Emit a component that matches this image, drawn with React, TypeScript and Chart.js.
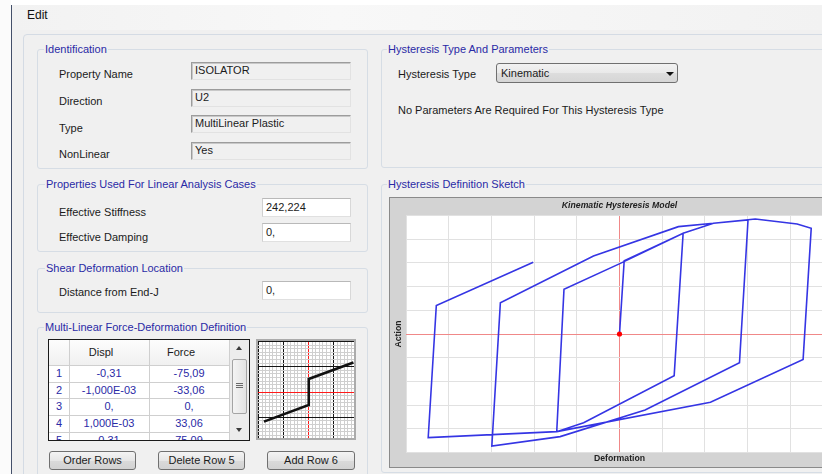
import React, { useEffect, useRef } from "react";
import { Chart, registerables } from "chart.js";
Chart.register(...registerables);

// ---- Hysteresis sketch data (grid units) ----
const hysteresisDeformation = [0, 0.11, 1.49, 1.28, -0.84, -1.47, -1.30, 0.02, 1.49, 2.20, 3.01, 2.81, 0.60, -1.39, -2.99, -2.79, -0.61, 1.38, 2.20, 3.18, 4.16, 4.49, 4.30, 2.13, -1.47, -4.48, -4.29, -2.02];
const hysteresisAction = [0, 3.09, 4.25, -1.76, -3.74, -4.12, 1.89, 2.98, 4.25, 4.67, 4.81, -1.21, -3.21, -4.33, -4.73, 1.32, 3.29, 4.53, 4.67, 4.85, 4.64, 4.46, -1.07, -2.88, -4.12, -4.37, 1.20, 3.03];

// ---- Multi-linear definition ----
const tableDispl = [-0.31, -0.001, 0, 0.001, 0.31];
const tableForce = [-75.09, -33.06, 0, 33.06, 75.09];
const tableDisplText = ["-0,31", "-1,000E-03", "0,", "1,000E-03", "0,31"];
const tableForceText = ["-75,09", "-33,06", "0,", "33,06", "75,09"];
const rowNumbers = ["1", "2", "3", "4", "5"];

const smallXRange = [-0.351, 0.314];
const smallYRange = [-116.7, 129.4];
const smallMajor = [0.1732, 64.2];
const smallMinorPerMajor = 7;

const FONT = "'Liberation Sans', Arial, Helvetica, sans-serif";
const BLUE = "#2a2aa6";

function Txt(props: any) {
  const { x, cy, children, size = 11, color = "#1b1b1b", center = false, bg, bold = false, italic = false } = props;
  const lh = 14;
  return (
    <div
      style={{
        position: "absolute",
        left: center ? x - 100 : x,
        top: cy - lh / 2,
        width: center ? 200 : undefined,
        textAlign: center ? "center" : "left",
        fontSize: size,
        lineHeight: lh + "px",
        color,
        fontFamily: FONT,
        whiteSpace: "nowrap",
        fontWeight: bold ? "bold" : "normal",
        fontStyle: italic ? "italic" : "normal",
      }}
    >
      {bg ? <span style={{ background: bg, padding: "0 1px" }}>{children}</span> : children}
    </div>
  );
}

function Group(props: any) {
  const { x, y, w, h, label, lx } = props;
  return (
    <>
      <div
        style={{
          position: "absolute",
          left: x,
          top: y,
          width: w,
          height: h,
          border: "1px solid #d6dde5",
          borderRadius: 3,
          boxSizing: "border-box",
        }}
      />
      <Txt x={lx - 1} cy={y} color={BLUE} bg="#f0f0f0">
        {label}
      </Txt>
    </>
  );
}

function Box(props: any) {
  const { x, y, w, h, text, ro } = props;
  return (
    <div
      style={{
        position: "absolute",
        left: x,
        top: y,
        width: w,
        height: h,
        boxSizing: "border-box",
        background: ro ? "#f0f0f0" : "#ffffff",
        borderTop: ro ? "1px solid #9c9c9c" : "1px solid #b9b9b9",
        borderLeft: ro ? "1px solid #9c9c9c" : "1px solid #d0d0d0",
        borderRight: ro ? "1px solid #e2e2e2" : "1px solid #d8d8d8",
        borderBottom: ro ? "1px solid #e2e2e2" : "1px solid #e0e0e0",
        boxShadow: ro ? "inset 1px 1px 0 #c8c8c8" : "none",
      }}
    >
      <div
        style={{
          position: "absolute",
          left: 3,
          top: ro ? 0 : 1,
          fontSize: 11,
          lineHeight: "14px",
          fontFamily: FONT,
          color: "#1b1b1b",
          whiteSpace: "nowrap",
        }}
      >
        {text}
      </div>
    </div>
  );
}

function Button(props: any) {
  const { x, y, w, h, text } = props;
  return (
    <div
      style={{
        position: "absolute",
        left: x,
        top: y,
        width: w,
        height: h,
        boxSizing: "border-box",
        border: "1px solid #707070",
        borderRadius: 3,
        background: "linear-gradient(#f4f4f4, #e6e6e6 50%, #dadada 51%, #d2d2d2)",
        fontFamily: FONT,
        fontSize: 11,
        lineHeight: h - 2 + "px",
        textAlign: "center",
        color: "#1b1b1b",
      }}
    >
      {text}
    </div>
  );
}

function HysteresisChart() {
  const ref = useRef<HTMLCanvasElement>(null);
  useEffect(() => {
    const gray = "#e1e1e1";
    const red = "#f08888";
    const titleFont = { family: FONT, size: 8.7, weight: "bold" as const, lineHeight: 1.2 };
    const plotBg = {
      id: "plotBg",
      beforeDraw(chart: any) {
        const { ctx, chartArea } = chart;
        ctx.save();
        ctx.fillStyle = "#ffffff";
        ctx.fillRect(chartArea.left, chartArea.top, chartArea.right - chartArea.left, chartArea.bottom - chartArea.top);
        ctx.restore();
      },
    };
    const chart = new Chart(ref.current!, {
      type: "scatter",
      data: {
        datasets: [
          {
            data: [{ x: 0, y: 0 }],
            pointRadius: 2.6,
            pointBackgroundColor: "#ff0000",
            pointBorderWidth: 0,
            showLine: false,
          },
          {
            data: hysteresisDeformation.map((x, i) => ({ x, y: hysteresisAction[i] })),
            showLine: true,
            borderColor: "#3535e4",
            borderWidth: 1.6,
            pointRadius: 0,
            tension: 0,
            fill: false,
          },
        ],
      },
      options: {
        responsive: false,
        animation: false,
        events: [],
        layout: { padding: 0, autoPadding: false },
        plugins: {
          legend: { display: false },
          tooltip: { enabled: false },
          title: {
            display: true,
            text: "Kinematic Hysteresis Model",
            color: "#222222",
            font: { ...titleFont, style: "italic" },
            padding: { top: 2, bottom: 5.06 },
          },
        },
        scales: {
          x: {
            type: "linear",
            min: -5,
            max: 5,
            ticks: { display: false, stepSize: 1 },
            grid: {
              drawTicks: false,
              lineWidth: 1,
              color: (c: any) => (c.tick && c.tick.value === 0 ? red : gray),
            },
            border: { display: false },
            title: { display: true, text: "Deformation", color: "#222222", font: titleFont, padding: { top: 1.28, bottom: 2.78 } },
            afterFit: (s: any) => {
              s.height = 14.5;
            },
          },
          y: {
            type: "linear",
            position: "left",
            min: -5,
            max: 5,
            ticks: { display: false, stepSize: 1 },
            grid: {
              drawTicks: false,
              lineWidth: 1,
              color: (c: any) => (c.tick && c.tick.value === 0 ? red : gray),
            },
            border: { display: false },
            title: { display: true, text: "Action", color: "#222222", font: titleFont, padding: { top: 3.1, bottom: 2.46 } },
            afterFit: (s: any) => {
              s.width = 16;
            },
          },
          y2: {
            type: "linear",
            position: "right",
            display: true,
            ticks: { display: false },
            grid: { display: false, drawTicks: false },
            border: { display: false },
            afterFit: (s: any) => {
              s.width = 16;
            },
          },
        },
      } as any,
      plugins: [plotBg],
    });
    return () => chart.destroy();
  }, []);
  return (
    <div
      style={{
        position: "absolute",
        left: 389,
        top: 197,
        width: 461,
        height: 271,
        boxSizing: "border-box",
        border: "1px solid #8a8a8a",
        background: "#d3d3d3",
      }}
    >
      <canvas ref={ref} width={459} height={269} style={{ display: "block" }} />
    </div>
  );
}

function SmallChart() {
  const ref = useRef<HTMLCanvasElement>(null);
  useEffect(() => {
    const mkTicks = (min: number, max: number, major: number) => {
      const minor = major / smallMinorPerMajor;
      const out: any[] = [];
      for (let k = Math.ceil(min / minor); k <= Math.floor(max / minor); k++) out.push({ value: k * minor, k });
      return out;
    };
    const colorFor = (c: any, major: number) => {
      if (!c.tick) return "#d0d0d0";
      const k = Math.round(c.tick.value / (major / smallMinorPerMajor));
      if (k === 0) return "#ff1a1a";
      if (k % smallMinorPerMajor === 0) return "#151515";
      return "#cfcfcf";
    };
    const chart = new Chart(ref.current!, {
      type: "scatter",
      data: {
        datasets: [
          {
            data: tableDispl.map((x, i) => ({ x, y: tableForce[i] })),
            showLine: true,
            borderColor: "#111111",
            borderWidth: 2.6,
            pointRadius: 0,
            tension: 0,
          },
        ],
      },
      options: {
        responsive: false,
        animation: false,
        events: [],
        layout: { padding: 0, autoPadding: false },
        plugins: { legend: { display: false }, tooltip: { enabled: false }, title: { display: false } },
        scales: {
          x: {
            type: "linear",
            min: smallXRange[0],
            max: smallXRange[1],
            afterBuildTicks: (s: any) => {
              s.ticks = mkTicks(smallXRange[0], smallXRange[1], smallMajor[0]);
            },
            ticks: { display: false },
            grid: { drawTicks: false, lineWidth: 1, color: (c: any) => colorFor(c, smallMajor[0]) },
            border: { display: false },
            afterFit: (s: any) => {
              s.height = 0;
            },
          },
          y: {
            type: "linear",
            min: smallYRange[0],
            max: smallYRange[1],
            afterBuildTicks: (s: any) => {
              s.ticks = mkTicks(smallYRange[0], smallYRange[1], smallMajor[1]);
            },
            ticks: { display: false },
            grid: { drawTicks: false, lineWidth: 1, color: (c: any) => colorFor(c, smallMajor[1]) },
            border: { display: false },
            afterFit: (s: any) => {
              s.width = 0;
            },
          },
        },
      } as any,
    });
    return () => chart.destroy();
  }, []);
  return (
    <div
      style={{
        position: "absolute",
        left: 256,
        top: 339,
        width: 100,
        height: 101,
        boxSizing: "border-box",
        border: "2px solid #ababab",
        background: "#ffffff",
      }}
    >
      <canvas ref={ref} width={96} height={97} style={{ display: "block" }} />
    </div>
  );
}

function Table() {
  const rowTop = 365;
  const rowH = 16.67;
  const cells: any[] = [];
  for (let i = 0; i < rowNumbers.length; i++) {
    const cy = rowTop + rowH * i + rowH / 2 - 0.5;
    cells.push(
      <Txt key={"r" + i} x={59} cy={cy} center color={BLUE}>
        {rowNumbers[i]}
      </Txt>,
      <Txt key={"d" + i} x={109} cy={cy} center color={BLUE}>
        {tableDisplText[i]}
      </Txt>,
      <Txt key={"f" + i} x={189} cy={cy} center color={BLUE}>
        {tableForceText[i]}
      </Txt>
    );
  }
  const lines: any[] = [];
  for (let i = 0; i <= 5; i++) {
    lines.push(
      <div key={"h" + i} style={{ position: "absolute", left: 49, top: Math.round(rowTop + rowH * i), width: 181, height: 1, background: "#cfcfcf" }} />
    );
  }
  return (
    <>
      <div
        style={{
          position: "absolute",
          left: 48,
          top: 339,
          width: 202,
          height: 102,
          boxSizing: "border-box",
          border: "1px solid #1a1a1a",
          background: "#ffffff",
        }}
      />
      <div style={{ position: "absolute", left: 49, top: 340, width: 200, height: 100, overflow: "hidden" }}>
        <div style={{ position: "absolute", left: -49, top: -340, width: 300, height: 500 }}>
          <div style={{ position: "absolute", left: 49, top: 340, width: 181, height: 25, background: "linear-gradient(#fdfdfd, #f0f0f0)" }} />
          {lines}
          <div style={{ position: "absolute", left: 69, top: 340, width: 1, height: 110, background: "#cfcfcf" }} />
          <div style={{ position: "absolute", left: 149, top: 340, width: 1, height: 110, background: "#cfcfcf" }} />
          <div style={{ position: "absolute", left: 229, top: 340, width: 1, height: 110, background: "#cfcfcf" }} />
          <Txt x={101} cy={352} center>
            Displ
          </Txt>
          <Txt x={181} cy={352} center>
            Force
          </Txt>
          {cells}
          {/* scrollbar */}
          <div style={{ position: "absolute", left: 230, top: 340, width: 19, height: 100, background: "#ececec" }} />
          <div
            style={{
              position: "absolute",
              left: 236,
              top: 346,
              width: 0,
              height: 0,
              borderLeft: "3.5px solid transparent",
              borderRight: "3.5px solid transparent",
              borderBottom: "4px solid #3a3a3a",
            }}
          />
          <div
            style={{
              position: "absolute",
              left: 232,
              top: 359,
              width: 15,
              height: 55,
              boxSizing: "border-box",
              border: "1px solid #a4a4a4",
              borderRadius: 2,
              background: "linear-gradient(90deg, #f4f4f4, #e2e2e2)",
            }}
          />
          <div style={{ position: "absolute", left: 236, top: 383, width: 7, height: 1, background: "#6a6a6a" }} />
          <div style={{ position: "absolute", left: 236, top: 385, width: 7, height: 1, background: "#6a6a6a" }} />
          <div style={{ position: "absolute", left: 236, top: 387, width: 7, height: 1, background: "#6a6a6a" }} />
          <div
            style={{
              position: "absolute",
              left: 236,
              top: 428,
              width: 0,
              height: 0,
              borderLeft: "3.5px solid transparent",
              borderRight: "3.5px solid transparent",
              borderTop: "4px solid #3a3a3a",
            }}
          />
        </div>
      </div>
    </>
  );
}

export default function App() {
  return (
    <div
      style={{
        position: "fixed",
        left: 0,
        top: 0,
        width: 822,
        height: 474,
        overflow: "hidden",
        background: "#f0f0f0",
        fontFamily: FONT,
      }}
    >
      {/* window chrome */}
      <div style={{ position: "absolute", left: 0, top: 0, width: 822, height: 5, background: "#ffffff" }} />
      <div style={{ position: "absolute", left: 0, top: 0, width: 11, height: 474, background: "#fbfbfb" }} />
      <div style={{ position: "absolute", left: 11, top: 5, width: 1, height: 469, background: "#44506a" }} />
      <div style={{ position: "absolute", left: 12, top: 5, width: 810, height: 25, background: "linear-gradient(90deg, #f2f2f2, #f8f8f8 40%, #f2f2f2)" }} />
      <Txt x={27} cy={15} size={12} color="#111111">
        Edit
      </Txt>
      {/* inner panel */}
      <div
        style={{
          position: "absolute",
          left: 23,
          top: 34,
          width: 900,
          height: 500,
          boxSizing: "border-box",
          border: "1px solid #d4dbe4",
          borderRadius: 4,
        }}
      />

      {/* Identification */}
      <Group x={37} y={49} w={331} h={120} label="Identification" lx={45} />
      <Txt x={59} cy={74}>Property Name</Txt>
      <Txt x={59} cy={101}>Direction</Txt>
      <Txt x={59} cy={128}>Type</Txt>
      <Txt x={59} cy={154}>NonLinear</Txt>
      <Box x={191} y={62} w={160} h={18} text="ISOLATOR" ro />
      <Box x={191} y={89} w={160} h={18} text="U2" ro />
      <Box x={191} y={115} w={160} h={18} text="MultiLinear Plastic" ro />
      <Box x={191} y={142} w={160} h={18} text="Yes" ro />

      {/* Hysteresis type */}
      <Group x={381} y={49} w={500} h={119} label="Hysteresis Type And Parameters" lx={388} />
      <Txt x={398} cy={74}>Hysteresis Type</Txt>
      <div
        style={{
          position: "absolute",
          left: 496,
          top: 63,
          width: 182,
          height: 20,
          boxSizing: "border-box",
          border: "1px solid #707070",
          borderRadius: 3,
          background: "linear-gradient(#f2f2f2, #e9e9e9 50%, #dddddd 51%, #d6d6d6)",
        }}
      />
      <Txt x={501} cy={73}>Kinematic</Txt>
      <div
        style={{
          position: "absolute",
          left: 666,
          top: 72,
          width: 0,
          height: 0,
          borderLeft: "4px solid transparent",
          borderRight: "4px solid transparent",
          borderTop: "4px solid #111111",
        }}
      />
      <Txt x={398} cy={110}>No Parameters Are Required For This Hysteresis Type</Txt>

      {/* Linear properties */}
      <Group x={37} y={184} w={331} h={68} label="Properties Used For Linear Analysis Cases" lx={46} />
      <Txt x={59} cy={212}>Effective Stiffness</Txt>
      <Txt x={59} cy={236.5}>Effective Damping</Txt>
      <Box x={262} y={198} w={89} h={19} text="242,224" />
      <Box x={262} y={223} w={89} h={19} text="0," />

      {/* Shear deformation */}
      <Group x={37} y={268} w={331} h={45} label="Shear Deformation Location" lx={46} />
      <Txt x={59} cy={291.5}>Distance from End-J</Txt>
      <Box x={262} y={281} w={89} h={19} text="0," />

      {/* Multi-linear */}
      <Group x={37} y={327} w={331} h={160} label="Multi-Linear Force-Deformation Definition" lx={45} />
      <Table />
      <SmallChart />
      <Button x={49} y={451} w={87} h={19} text="Order Rows" />
      <Button x={158} y={451} w={87} h={19} text="Delete Row 5" />
      <Button x={267} y={451} w={88} h={19} text="Add Row 6" />

      {/* Hysteresis sketch */}
      <Group x={381} y={184} w={500} h={289} label="Hysteresis Definition Sketch" lx={388} />
      <HysteresisChart />
    </div>
  );
}
